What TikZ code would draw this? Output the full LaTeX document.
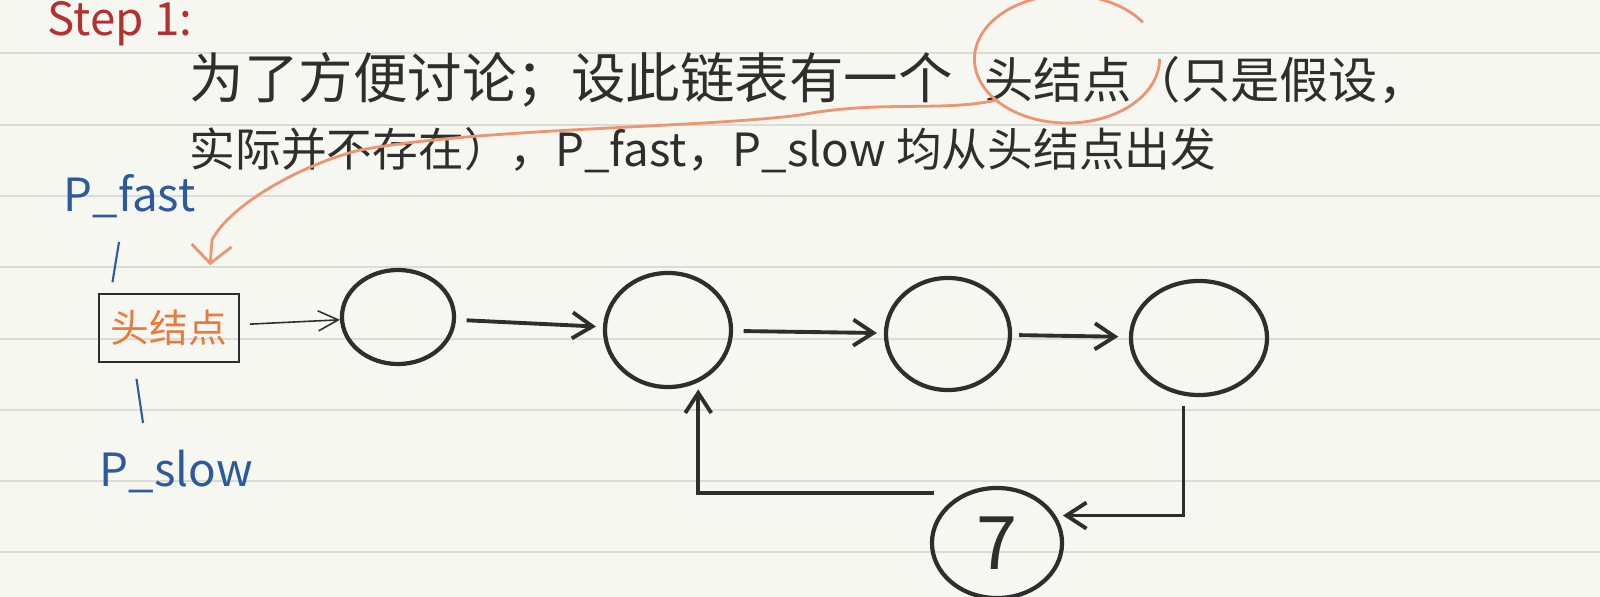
\documentclass[tikz,border=0pt]{standalone}
\usepackage{fontspec}
\setmainfont{Noto Sans CJK SC}
\usepackage{xcolor}
\usepackage{tikz}
\usetikzlibrary{positioning, arrows.meta, shapes.geometric}

\definecolor{paper}{HTML}{F7F7F2}
\definecolor{rulegray}{HTML}{DCDCD7}
\definecolor{inkblack}{HTML}{2E2E2E}
\definecolor{penblue}{HTML}{2D5A9C}
\definecolor{penred}{HTML}{B3312F}
\definecolor{hiorange}{HTML}{EE9470}
\definecolor{boxorange}{HTML}{E9793F}

\begin{document}
\begin{tikzpicture}[
        x=0.01cm, y=-0.01cm,
        rule/.style={draw=rulegray, line width=0.6pt},
        note/.style={text=inkblack, inner sep=0, anchor=west},
        ptr/.style={text=penblue, inner sep=0, font=\fontsize{13}{13}\selectfont},
        ptrline/.style={draw=penblue, line width=0.6pt},
        listnode/.style={ellipse, draw=inkblack, line width=1.2pt, inner sep=0},
        headbox/.style={rectangle, draw=inkblack, line width=0.45pt, minimum width=1.28cm, minimum height=0.68cm, text=boxorange, font=\fontsize{11}{11}\selectfont},
        link/.style={-{Straight Barb[length=2mm, width=2.6mm]}, draw=inkblack, line width=1.1pt},
        thinlink/.style={-{Straight Barb[length=2mm, width=2mm]}, draw=inkblack, line width=0.45pt},
        hilite/.style={draw=hiorange, line width=0.8pt}
    ]
        % Paper
        \useasboundingbox (0,0) rectangle (1600,597);
        \fill[paper] (0,0) rectangle (1600,597);
        \foreach \y in {53,125,196,267,339,410,481,552}
            \draw[rule] (0,\y) -- (1600,\y);

        % Notes
        \node[note, text=penred, font=\fontsize{13}{13}\selectfont] (title) at (47,24) {Step 1:};
        \node[note, font=\fontsize{15.5}{15.5}\selectfont] (line1) at (189,80) {为了方便讨论；设此链表有一个};
        \node[note, font=\fontsize{14}{14}\selectfont, right=0.3cm of line1] (line1b) {头结点（只是假设，};
        \node[note, font=\fontsize{13}{13}\selectfont] (line2) at (189,150) {实际并不存在），P\_fast，P\_slow 均从头结点出发};

        % Head node and pointers
        \node[headbox] (head) at (169,328) {头结点};
        \node[ptr, anchor=south west] (pfast) at (63,219) {P\_fast};
        \node[ptr, anchor=north west] (pslow) at (99,449) {P\_slow};
        \draw[ptrline] ([shift={(0.56cm,-0.23cm)}]pfast.south west) -- ([shift={(0.14cm,0.11cm)}]head.north west);
        \draw[ptrline] ([shift={(0.38cm,-0.16cm)}]head.south west) -- ([shift={(0.44cm,0.26cm)}]pslow.north west);

        % List nodes
        \node[listnode, minimum width=1.12cm, minimum height=0.94cm] (c1) at (398,317) {};
        \node[listnode, minimum width=1.26cm, minimum height=1.14cm] (c2) at (668,330) {};
        \node[listnode, minimum width=1.24cm, minimum height=1.12cm] (c3) at (948,334) {};
        \node[listnode, minimum width=1.36cm, minimum height=1.14cm] (c4) at (1199,338) {};
        \node[listnode, minimum width=1.30cm, minimum height=1.10cm, font=\fontsize{21}{21}\selectfont, text=inkblack] (c7) at (997,543) {7};

        % Arrows
        \draw[thinlink, shorten <=3pt] (head) -- (c1);
        \draw[link, shorten <=3pt, shorten >=2pt] (c1) -- (c2);
        \draw[link, shorten <=3pt, shorten >=2pt] (c2) -- (c3);
        \draw[link, shorten <=2pt, shorten >=3pt] (c3) -- (c4);
        \draw[link, shorten <=3pt, shorten >=2pt] (c4.255) |- (c7.25);
        \draw[link, shorten <=2pt, shorten >=2pt] ([yshift=0.18cm]c7.150) -| (c2.-60);

        % Highlight of the head node in the note
        \node[ellipse, minimum width=1.85cm, minimum height=1.28cm, inner sep=0] (mark) at (1067,59) {};
        \draw[hilite] ([shift={(35:0.925cm and 0.64cm)}]mark.center) arc[start angle=35, end angle=360, x radius=0.925cm, y radius=0.64cm];
        \draw[hilite, -{Straight Barb[length=1.8mm, width=4mm]}, shorten >=0.28cm] (mark.210)
            .. controls (940,112) and (880,100) .. (800,115)
            .. controls (700,128) and (480,128) .. (360,150)
            .. controls (300,165) and (230,205) .. (212,240)
            -- ([xshift=0.39cm]head.north);
    \end{tikzpicture}
\end{document}
